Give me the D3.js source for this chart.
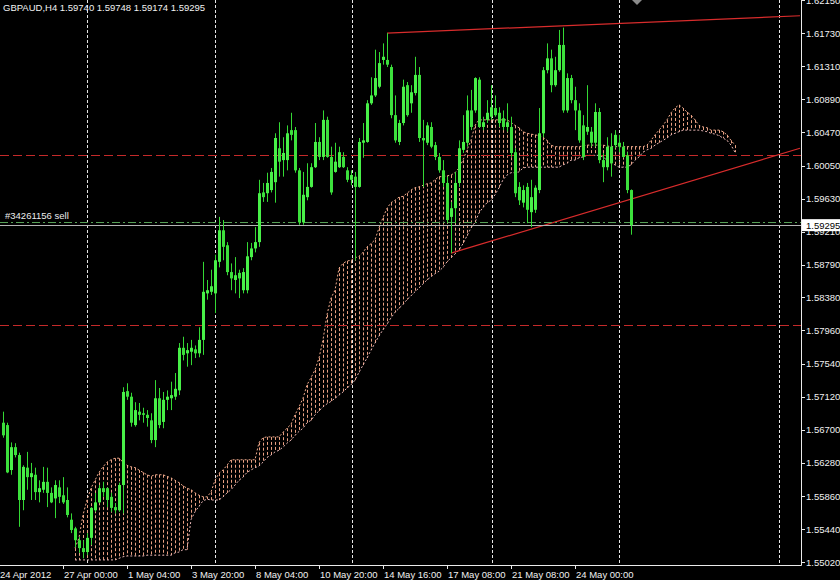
<!DOCTYPE html>
<html><head><meta charset="utf-8">
<script src="https://cdn.jsdelivr.net/npm/d3@7"></script>
<style>html,body{margin:0;padding:0;background:#000;overflow:hidden}svg{display:block}</style>
</head><body>
<svg id="c" width="840" height="580"></svg>
<script>
const titleText = "GBPAUD,H4  1.59740 1.59748 1.59174 1.59295";
const openP = [1.5679,1.5676,1.5619,1.5648,1.5638,1.5581,1.5622,1.5610,1.5613,1.5591,
1.5594,1.5604,1.5590,1.5583,1.5597,1.5587,1.5581,1.5556,1.5545,1.5530,
1.5520,1.5515,1.5533,1.5568,1.5578,1.5596,1.5596,1.5585,1.5572,1.5568,
1.5600,1.5719,1.5712,1.5676,1.5693,1.5691,1.5689,1.5682,1.5657,1.5710,
1.5680,1.5708,1.5710,1.5712,1.5720,1.5774,1.5767,1.5769,1.5772,1.5767,
1.5784,1.5843,1.5845,1.5843,1.5883,1.5923,1.5904,1.5870,1.5860,1.5869,
1.5847,1.5847,1.5889,1.5900,1.5908,1.5971,1.5970,1.5974,1.5984,1.6027,
1.6012,1.6012,1.6050,1.6050,1.5999,1.5933,1.5965,1.5978,1.6003,1.6035,
1.6016,1.6063,1.6016,1.5997,1.6003,1.6016,1.5999,1.5987,1.5991,1.5978,
1.6034,1.6035,1.6084,1.6094,1.6105,1.6139,1.6139,1.6130,1.6069,1.6035,
1.6059,1.6107,1.6084,1.6097,1.6120,1.6040,1.6034,1.6054,1.6031,1.6016,
1.5999,1.5983,1.5940,1.5951,1.5983,1.6025,1.6034,1.6075,1.6075,1.6114,
1.6054,1.6063,1.6067,1.6078,1.6072,1.6065,1.6054,1.6054,1.6022,1.5978,
1.5958,1.5978,1.5946,1.5949,1.5974,1.6046,1.6126,1.6141,1.6107,1.6126,
1.6158,1.6075,1.6116,1.6088,1.6075,1.6056,1.6048,1.6048,1.6034,1.6073,
1.6012,1.6003,1.6029,1.6031,1.6034,1.6029,1.6018,1.59740];
const highP = [1.5693,1.5679,1.5654,1.5653,1.5641,1.5625,1.5642,1.5628,1.5622,1.5606,
1.5623,1.5622,1.5597,1.5606,1.5606,1.5610,1.5597,1.5564,1.5547,1.5534,
1.5530,1.5539,1.5572,1.5590,1.5600,1.5604,1.5597,1.5590,1.5577,1.5603,
1.5724,1.5729,1.5717,1.5705,1.5704,1.5698,1.5695,1.5691,1.5733,1.5723,
1.5718,1.5720,1.5731,1.5742,1.5780,1.5788,1.5780,1.5784,1.5777,1.5800,
1.5883,1.5860,1.5873,1.5892,1.5940,1.5936,1.5908,1.5881,1.5889,1.5873,
1.5875,1.5908,1.5907,1.5927,1.5987,1.5983,1.5996,1.6002,1.6046,1.6060,
1.6041,1.6056,1.6072,1.6054,1.6002,1.5997,1.6008,1.6008,1.6059,1.6041,
1.6075,1.6067,1.6029,1.6034,1.6029,1.6022,1.6003,1.5999,1.5997,1.6040,
1.6059,1.6088,1.6117,1.6152,1.6149,1.6160,1.6173,1.6133,1.6094,1.6063,
1.6114,1.6111,1.6107,1.6143,1.6130,1.6063,1.6060,1.6060,1.6035,1.6021,
1.6012,1.5991,1.5959,1.5997,1.6037,1.6069,1.6094,1.6101,1.6117,1.6117,
1.6067,1.6088,1.6107,1.6094,1.6079,1.6075,1.6084,1.6067,1.6027,1.5984,
1.5980,1.5983,1.5987,1.5980,1.6078,1.6130,1.6160,1.6152,1.6143,1.6177,
1.6180,1.6122,1.6120,1.6105,1.6084,1.6069,1.6107,1.6054,1.6084,1.6078,
1.6021,1.6041,1.6046,1.6050,1.6044,1.6035,1.6022,1.59748];
const lowP = [1.5660,1.5615,1.5613,1.5635,1.5547,1.5568,1.5594,1.5581,1.5581,1.5578,
1.5590,1.5572,1.5577,1.5558,1.5577,1.5576,1.5559,1.5539,1.5521,1.5514,
1.5507,1.5511,1.5524,1.5566,1.5577,1.5585,1.5572,1.5566,1.5564,1.5566,
1.5564,1.5708,1.5674,1.5674,1.5682,1.5679,1.5674,1.5653,1.5648,1.5672,
1.5672,1.5695,1.5695,1.5708,1.5714,1.5758,1.5750,1.5752,1.5761,1.5762,
1.5765,1.5835,1.5841,1.5818,1.5876,1.5885,1.5866,1.5847,1.5843,1.5837,
1.5843,1.5843,1.5885,1.5895,1.5902,1.5959,1.5959,1.5971,1.5958,1.5991,
1.5991,1.5999,1.6037,1.5996,1.5930,1.5930,1.5961,1.5977,1.6002,1.6012,
1.6012,1.6015,1.5968,1.5996,1.6002,1.6002,1.5984,1.5980,1.5885,1.5977,
1.6015,1.6034,1.6082,1.6092,1.6103,1.6133,1.6130,1.6065,1.6034,1.6031,
1.6056,1.6067,1.6072,1.6094,1.6035,1.5978,1.6031,1.6027,1.6012,1.5996,
1.5978,1.5932,1.5894,1.5932,1.5978,1.6021,1.6029,1.6050,1.6072,1.6053,
1.6050,1.6059,1.6063,1.6067,1.6054,1.6050,1.6048,1.6016,1.5965,1.5955,
1.5952,1.5932,1.5927,1.5945,1.5970,1.6041,1.6122,1.6098,1.6105,1.6124,
1.6072,1.6072,1.6084,1.6050,1.6034,1.6012,1.6044,1.6029,1.6029,1.6008,
1.5984,1.5999,1.5991,1.6027,1.6022,1.6015,1.5970,1.59174];
const closeP = [1.5663,1.5616,1.5648,1.5638,1.5581,1.5623,1.5610,1.5615,1.5591,1.5596,
1.5604,1.5590,1.5578,1.5600,1.5585,1.5578,1.5562,1.5543,1.5530,1.5520,
1.5515,1.5533,1.5571,1.5578,1.5596,1.5591,1.5581,1.5571,1.5568,1.5600,
1.5718,1.5712,1.5679,1.5695,1.5689,1.5689,1.5685,1.5657,1.5710,1.5676,
1.5708,1.5712,1.5714,1.5722,1.5774,1.5765,1.5771,1.5774,1.5767,1.5784,
1.5845,1.5847,1.5852,1.5885,1.5923,1.5902,1.5870,1.5862,1.5866,1.5862,
1.5870,1.5890,1.5900,1.5908,1.5970,1.5965,1.5983,1.5997,1.6040,1.6010,
1.6021,1.6046,1.6044,1.5999,1.5933,1.5968,1.5978,1.6003,1.6035,1.6016,
1.6063,1.6016,1.5971,1.6010,1.6022,1.6003,1.5987,1.5993,1.5978,1.6035,
1.6037,1.6084,1.6094,1.6116,1.6135,1.6143,1.6133,1.6069,1.6037,1.6059,
1.6105,1.6069,1.6098,1.6120,1.6040,1.6037,1.6056,1.6029,1.6016,1.5999,
1.5983,1.5936,1.5951,1.5983,1.6027,1.6035,1.6075,1.6054,1.6116,1.6054,
1.6060,1.6072,1.6079,1.6069,1.6059,1.6054,1.6060,1.6021,1.5970,1.5961,
1.5974,1.5949,1.5965,1.5977,1.6046,1.6126,1.6141,1.6107,1.6126,1.6158,
1.6075,1.6116,1.6088,1.6075,1.6037,1.6016,1.6054,1.6034,1.6073,1.6012,
1.6003,1.6029,1.6008,1.6044,1.6029,1.6016,1.5974,1.59295];

// Ichimoku cloud (Senkou spans), first value belongs to bar 18
const cloudStart = 18;
const spanA = [1.5520,1.5533,1.5562,1.5581,1.5596,1.5606,1.5616,1.5623,1.5629,1.5632,
1.5634,1.5634,1.5629,1.5625,1.5623,1.5622,1.5619,1.5616,1.5613,1.5611,
1.5613,1.5613,1.5613,1.5611,1.5609,1.5606,1.5603,1.5599,1.5596,1.5594,
1.5590,1.5587,1.5585,1.5585,1.5591,1.5606,1.5615,1.5619,1.5625,1.5632,
1.5632,1.5632,1.5632,1.5632,1.5632,1.5632,1.5654,1.5660,1.5661,1.5661,
1.5661,1.5661,1.5667,1.5672,1.5677,1.5689,1.5699,1.5710,1.5727,1.5736,
1.5746,1.5761,1.5784,1.5816,1.5837,1.5847,1.5875,1.5881,1.5884,1.5885,
1.5888,1.5890,1.5895,1.5902,1.5906,1.5911,1.5926,1.5939,1.5951,1.5958,
1.5961,1.5965,1.5966,1.5970,1.5974,1.5977,1.5978,1.5980,1.5982,1.5983,
1.5987,1.5991,1.5991,1.5992,1.5993,1.5996,1.6002,1.6012,1.6025,1.6037,
1.6056,1.6063,1.6063,1.6063,1.6063,1.6063,1.6063,1.6063,1.6063,1.6060,
1.6056,1.6053,1.6048,1.6046,1.6045,1.6044,1.6043,1.6041,1.6037,1.6031,
1.6029,1.6029,1.6029,1.6029,1.6029,1.6029,1.6029,1.6030,1.6031,1.6031,
1.6031,1.6031,1.6031,1.6030,1.6029,1.6029,1.6029,1.6029,1.6029,1.6029,
1.6029,1.6029,1.6029,1.6031,1.6037,1.6044,1.6050,1.6056,1.6063,1.6072,
1.6078,1.6082,1.6078,1.6073,1.6069,1.6063,1.6056,1.6054,1.6053,1.6050,
1.6050,1.6050,1.6048,1.6044,1.6037,1.6031];
const spanB = [1.5505,1.5505,1.5505,1.5505,1.5505,1.5505,1.5505,1.5505,1.5505,1.5505,
1.5505,1.5507,1.5509,1.5510,1.5510,1.5510,1.5510,1.5510,1.5511,1.5511,
1.5511,1.5511,1.5511,1.5511,1.5511,1.5514,1.5515,1.5518,1.5518,1.5556,
1.5566,1.5573,1.5580,1.5582,1.5581,1.5581,1.5581,1.5585,1.5590,1.5594,
1.5600,1.5606,1.5610,1.5616,1.5619,1.5622,1.5624,1.5629,1.5635,1.5638,
1.5642,1.5644,1.5648,1.5653,1.5657,1.5663,1.5668,1.5672,1.5679,1.5682,
1.5689,1.5694,1.5699,1.5703,1.5706,1.5710,1.5714,1.5718,1.5723,1.5727,
1.5733,1.5743,1.5752,1.5761,1.5771,1.5780,1.5789,1.5797,1.5804,1.5812,
1.5819,1.5824,1.5829,1.5835,1.5840,1.5845,1.5850,1.5855,1.5860,1.5864,
1.5868,1.5871,1.5876,1.5883,1.5888,1.5893,1.5898,1.5906,1.5916,1.5926,
1.5933,1.5945,1.5952,1.5958,1.5961,1.5968,1.5977,1.5987,1.5993,1.5996,
1.5996,1.5997,1.6002,1.6003,1.6003,1.6003,1.6003,1.6003,1.6003,1.6003,
1.6003,1.6003,1.6006,1.6008,1.6012,1.6012,1.6015,1.6016,1.6018,1.6018,
1.6018,1.6018,1.6016,1.6012,1.6008,1.6006,1.6003,1.6003,1.6003,1.6006,
1.6012,1.6016,1.6022,1.6025,1.6027,1.6031,1.6034,1.6037,1.6040,1.6044,
1.6046,1.6048,1.6050,1.6050,1.6050,1.6050,1.6050,1.6049,1.6048,1.6046,
1.6045,1.6043,1.6040,1.6037,1.6031,1.6022];

const priceTicks = [1.62150,1.61730,1.61310,1.60890,1.60470,1.60050,1.59630,1.59210,1.58790,1.58380,1.57960,1.57540,1.57120,1.56700,1.56280,1.55860,1.55440,1.55020];
const timeLabels = ["24 Apr 2012","27 Apr 00:00","1 May 04:00","3 May 20:00","8 May 04:00","10 May 20:00","14 May 16:00","17 May 08:00","21 May 08:00","24 May 00:00"];
const timeLabelBars = [-1,15,31,47,63,79,95,111,127,143];
const gridBars = [21,53,87.25,122.25,154,194];
const hLinePrices = [1.60185,1.58029];
const orderPrice = 1.5933;
const orderText = "#34261156 sell";
const bidPrice = 1.59295;
const trendUpper = [[96,1.6173],[199.25,1.6195]];
const trendLower = [[112,1.5894],[199.25,1.6027]];

const W = 840, H = 580, PR = 801, PB = 565;
const svg = d3.select("#c");
svg.append("rect").attr("width",W).attr("height",H).attr("fill","#000");
const x = d3.scaleLinear().domain([0,200]).range([3,803]);
const y = d3.scaleLinear().domain([1.5502,1.6215]).range([562.3,0]);
const px = v => Math.round(x(v)) + 0.5;

svg.append("clipPath").attr("id","plot").append("rect").attr("x",0).attr("y",0).attr("width",PR).attr("height",PB);
const g = svg.append("g").attr("clip-path","url(#plot)");
const font = "'Liberation Sans', Arial, sans-serif";

// vertical grid
g.selectAll(".grid").data(gridBars).enter().append("line")
  .attr("x1",d=>px(d)).attr("x2",d=>px(d)).attr("y1",0).attr("y2",PB)
  .attr("stroke","#e6e6e6").attr("stroke-width",1).attr("stroke-dasharray","3,2");

// cloud
const cloudIdx = d3.range(spanA.length);
const hatch = "#e9a082";
g.selectAll(".cl").data(cloudIdx).enter().append("line")
  .attr("x1",i=>px(i+cloudStart)).attr("x2",i=>px(i+cloudStart))
  .attr("y1",i=>y(Math.max(spanA[i],spanB[i]))).attr("y2",i=>y(Math.min(spanA[i],spanB[i])))
  .attr("stroke",hatch).attr("stroke-width",1).attr("stroke-dasharray","3,2");
[spanA,spanB].forEach((s,k)=>{
  g.append("path").datum(cloudIdx)
   .attr("d",d3.line().x(i=>x(i+cloudStart)).y(i=>y(s[i])))
   .attr("fill","none").attr("stroke",k===0?"#eeaa8c":"#e4b4b4").attr("stroke-width",1).attr("stroke-dasharray","2,2");
});

// horizontal lines
g.selectAll(".hl").data(hLinePrices).enter().append("line")
  .attr("x1",0).attr("x2",PR).attr("y1",d=>Math.round(y(d))+0.5).attr("y2",d=>Math.round(y(d))+0.5)
  .attr("stroke","#c42a2a").attr("stroke-width",1).attr("stroke-dasharray","9,4");

// trend lines
[trendUpper,trendLower].forEach(t=>{
  g.append("line").attr("x1",x(t[0][0])).attr("y1",y(t[0][1])).attr("x2",x(t[1][0])).attr("y2",y(t[1][1]))
   .attr("stroke","#d82c2c").attr("stroke-width",1.2);
});

// order & bid lines
g.append("line").attr("x1",0).attr("x2",PR).attr("y1",Math.round(y(orderPrice))+0.5).attr("y2",Math.round(y(orderPrice))+0.5)
 .attr("stroke","#56a056").attr("stroke-width",1).attr("stroke-dasharray","8,3,2,3");
g.append("line").attr("x1",0).attr("x2",PR).attr("y1",Math.round(y(bidPrice))+0.5).attr("y2",Math.round(y(bidPrice))+0.5)
 .attr("stroke","#b4b4b4").attr("stroke-width",1);

// candles
const bars = d3.range(openP.length);
const green = "#34d834";
g.selectAll(".wick").data(bars).enter().append("line")
  .attr("x1",i=>px(i)).attr("x2",i=>px(i)).attr("y1",i=>y(highP[i])).attr("y2",i=>y(lowP[i]))
  .attr("stroke",green).attr("stroke-width",1);
g.selectAll(".body").data(bars).enter().append("rect")
  .attr("x",i=>Math.round(x(i))-1).attr("width",3)
  .attr("y",i=>y(Math.max(openP[i],closeP[i])))
  .attr("height",i=>Math.max(1,y(Math.min(openP[i],closeP[i]))-y(Math.max(openP[i],closeP[i]))))
  .attr("fill",i=>closeP[i]>=openP[i]?"#48f048":"#3ce03c");

// texts inside plot
svg.append("text").attr("x",3).attr("y",10.5).attr("fill","#f2f2f2").attr("font-family",font).attr("font-size","9.5px").text(titleText);
svg.append("text").attr("x",5).attr("y",Math.round(y(orderPrice))-3).attr("fill","#ececec").attr("font-family",font).attr("font-size","9.5px").text(orderText);

// shift marker
const sx = x(openP.length) + 2;
svg.append("path").attr("d",`M${sx-5},0 L${sx+5},0 L${sx},5 Z`).attr("fill","#8a8a8a");

// axes
svg.append("line").attr("x1",PR+0.5).attr("x2",PR+0.5).attr("y1",0).attr("y2",PB+0.5).attr("stroke","#eaeaea");
svg.append("line").attr("x1",0).attr("x2",PR+0.5).attr("y1",PB+0.5).attr("y2",PB+0.5).attr("stroke","#eaeaea");
priceTicks.forEach(p=>{
  const yy = Math.min(y(p), PB+6);
  svg.append("line").attr("x1",PR).attr("x2",PR+4).attr("y1",Math.round(yy)+0.5).attr("y2",Math.round(yy)+0.5).attr("stroke","#eaeaea");
  svg.append("text").attr("x",PR+5).attr("y",yy+3.5).attr("fill","#f0f0f0").attr("font-family",font).attr("font-size","9.5px").text(p.toFixed(5));
});
// bid box
const by = y(bidPrice);
svg.append("rect").attr("x",PR+1).attr("y",by-6).attr("width",W-PR-1).attr("height",12).attr("fill","#fff");
svg.append("text").attr("x",PR+5).attr("y",by+3.5).attr("fill","#000").attr("font-family",font).attr("font-size","9.5px").text(bidPrice.toFixed(5));

timeLabels.forEach((t,k)=>{
  const xx = Math.max(0, Math.round(x(timeLabelBars[k])));
  if (k>0) svg.append("line").attr("x1",xx+0.5).attr("x2",xx+0.5).attr("y1",PB).attr("y2",PB+4).attr("stroke","#eaeaea");
  svg.append("text").attr("x",k===0?0:xx+1).attr("y",578).attr("fill","#f0f0f0").attr("font-family",font).attr("font-size","9.5px").text(t);
});
</script>
</body></html>
